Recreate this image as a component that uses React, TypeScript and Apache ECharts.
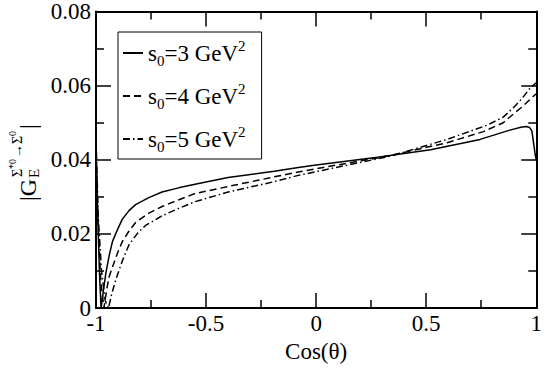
import React, { useEffect, useRef } from "react";
import * as echarts from "echarts";

const FONT = "'Liberation Serif', 'Times New Roman', serif";

const seriesNames = ["s0=3 GeV2", "s0=4 GeV2", "s0=5 GeV2"];
const seriesLabels = ["s{sub|0}=3 GeV{sup|2}", "s{sub|0}=4 GeV{sup|2}", "s{sub|0}=5 GeV{sup|2}"];

const s3X = [-1, -0.992, -0.984, -0.977, -0.966, -0.955, -0.94, -0.925, -0.9, -0.88, -0.85, -0.82, -0.76, -0.7, -0.62, -0.55, -0.4, -0.19, -0.081, 0, 0.279, 0.52, 0.745, 0.88, 0.93, 0.955, 0.97, 0.98, 0.988, 0.995, 1];
const s3Y = [0.044, 0.025, 0.009, 0, 0.005, 0.0095, 0.0142, 0.018, 0.0215, 0.024, 0.0263, 0.0279, 0.0298, 0.0313, 0.0325, 0.0334, 0.0352, 0.0369, 0.0379, 0.0386, 0.0407, 0.0427, 0.0455, 0.048, 0.0488, 0.049, 0.0487, 0.0478, 0.0445, 0.0415, 0.04];

const s4X = [-1, -0.99, -0.978, -0.964, -0.95, -0.94, -0.925, -0.9, -0.88, -0.85, -0.82, -0.76, -0.7, -0.62, -0.55, -0.4, -0.19, -0.081, 0, 0.324, 0.595, 0.76, 0.85, 0.895, 0.94, 0.977, 1];
const s4Y = [0.042, 0.022, 0.007, 0, 0.0055, 0.0085, 0.0111, 0.0152, 0.018, 0.0208, 0.0231, 0.0256, 0.0274, 0.0293, 0.0309, 0.0328, 0.0354, 0.0367, 0.0376, 0.041, 0.0446, 0.0476, 0.05, 0.0523, 0.0545, 0.0566, 0.0578];

const s5X = [-1, -0.99, -0.975, -0.958, -0.943, -0.93, -0.91, -0.88, -0.85, -0.81, -0.775, -0.7, -0.62, -0.55, -0.4, -0.19, -0.081, 0, 0.338, 0.595, 0.775, 0.85, 0.895, 0.935, 0.97, 1];
const s5Y = [0.046, 0.025, 0.01, 0.002, 0, 0.0035, 0.0077, 0.0128, 0.0171, 0.0203, 0.0223, 0.0249, 0.027, 0.0287, 0.0313, 0.0341, 0.0358, 0.0368, 0.041, 0.0455, 0.0493, 0.0515, 0.054, 0.0565, 0.0592, 0.0608];

const xTitle = "Cos(θ)";

const zip = (xs: number[], ys: number[]) => xs.map((x, i) => [x, ys[i]]);

export default function App() {
  const ref = useRef<HTMLDivElement>(null);
  useEffect(() => {
    if (!ref.current) return;
    const chart = echarts.init(ref.current, null, { renderer: "svg" });
    const tickCommon = {
      axisLine: { show: true, onZero: false, lineStyle: { color: "#000", width: 2 } },
      axisTick: { show: true, inside: true, length: 15, lineStyle: { color: "#000", width: 1.5 } },
      minorTick: { show: true, splitNumber: 2, length: 8, lineStyle: { color: "#000", width: 1.5 } },
      splitLine: { show: false },
      minorSplitLine: { show: false },
    };
    const labelStyle = { color: "#000", fontFamily: FONT, fontSize: 23 };
    const lineTypes: any[] = ["solid", [7, 4], [7, 3, 1.5, 3]];
    const datas = [zip(s3X, s3Y), zip(s4X, s4Y), zip(s5X, s5Y)];
    const t = (text: string, lx: number, ly: number, size: number) => ({
      type: "text",
      x: lx,
      y: ly,
      style: { text, font: `${size}px ${FONT}`, fill: "#000", align: "left", verticalAlign: "middle" },
    });
    chart.setOption({
      animation: false,
      backgroundColor: "#fff",
      grid: { left: 96, right: 5, top: 9, bottom: 48, containLabel: false },
      xAxis: [
        {
          type: "value", min: -1, max: 1, interval: 0.5, position: "bottom",
          ...tickCommon,
          axisLabel: { ...labelStyle, margin: 4 },
          name: xTitle, nameLocation: "middle", nameGap: 24,
          nameTextStyle: { ...labelStyle },
        },
        {
          type: "value", min: -1, max: 1, interval: 0.5, position: "top",
          ...tickCommon, axisLabel: { show: false },
        },
      ],
      yAxis: [
        {
          type: "value", min: 0, max: 0.08, interval: 0.02, position: "left",
          ...tickCommon,
          axisLabel: { ...labelStyle, margin: 5 },
        },
        {
          type: "value", min: 0, max: 0.08, interval: 0.02, position: "right",
          ...tickCommon, axisLabel: { show: false },
        },
      ],
      legend: {
        orient: "vertical",
        left: 118,
        top: 32,
        borderColor: "#000",
        borderWidth: 1,
        padding: [6, 16, 5, 4],
        itemGap: 13,
        itemWidth: 20,
        itemHeight: 14,
        data: seriesNames,
        itemStyle: { color: "rgba(0,0,0,0)", borderWidth: 0, opacity: 0 },
        formatter: (name: string) => seriesLabels[seriesNames.indexOf(name)],
        textStyle: {
          color: "#000", fontFamily: FONT, fontSize: 23, lineHeight: 30,
          rich: {
            sub: { fontFamily: FONT, fontSize: 15, color: "#000", verticalAlign: "bottom", lineHeight: 30 },
            sup: { fontFamily: FONT, fontSize: 15, color: "#000", verticalAlign: "top", lineHeight: 30 },
          },
        },
      },
      graphic: [
        {
          type: "group",
          x: 0,
          y: 201,
          rotation: Math.PI / 2,
          children: [
            t("|G", 0, 28, 24),
            t("E", 23, 34, 15),
            t("Σ", 24, 17, 14),
            t("*0", 32, 12, 10),
            t("→", 43, 17, 14),
            t("Σ", 57, 17, 14),
            t("0", 65, 12, 10),
            t("|", 72, 28, 24),
          ],
        },
      ],
      series: seriesNames.map((name, i) => ({
        name,
        type: "line",
        xAxisIndex: 0,
        yAxisIndex: 0,
        symbol: "none",
        showSymbol: false,
        data: datas[i],
        lineStyle: { color: "#000", width: 1.5, type: lineTypes[i] },
        itemStyle: { color: "#000" },
      })),
    });
    return () => chart.dispose();
  }, []);
  return (
    <div
      ref={ref}
      style={{ position: "fixed", left: 0, top: 0, width: 545, height: 368, background: "#fff" }}
    />
  );
}
